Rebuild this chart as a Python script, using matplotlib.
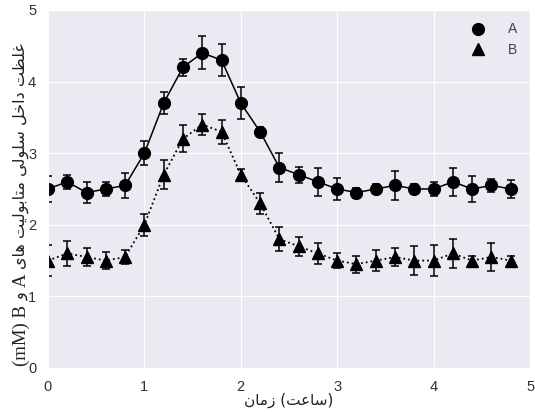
import matplotlib
matplotlib.use("Agg")
import matplotlib.pyplot as plt
from matplotlib.lines import Line2D
from matplotlib.transforms import IdentityTransform
import seaborn as sns

time = [0.0, 0.2, 0.4, 0.6, 0.8, 1.0, 1.2, 1.4, 1.6, 1.8, 2.0, 2.2, 2.4,
        2.6, 2.8, 3.0, 3.2, 3.4, 3.6, 3.8, 4.0, 4.2, 4.4, 4.6, 4.8]
a_mean = [2.5, 2.6, 2.45, 2.5, 2.55, 3.0, 3.7, 4.2, 4.4, 4.3, 3.7, 3.3, 2.8,
          2.7, 2.6, 2.5, 2.45, 2.5, 2.55, 2.5, 2.5, 2.6, 2.5, 2.55, 2.5]
a_err = [0.18, 0.1, 0.15, 0.1, 0.18, 0.17, 0.15, 0.12, 0.23, 0.22, 0.22, 0.06, 0.2,
         0.11, 0.2, 0.15, 0.07, 0.07, 0.2, 0.07, 0.1, 0.2, 0.18, 0.09, 0.12]
b_mean = [1.5, 1.6, 1.55, 1.5, 1.55, 2.0, 2.7, 3.2, 3.4, 3.3, 2.7, 2.3, 1.8,
          1.7, 1.6, 1.5, 1.45, 1.5, 1.55, 1.5, 1.5, 1.6, 1.5, 1.55, 1.5]
b_err = [0.22, 0.17, 0.13, 0.12, 0.1, 0.15, 0.2, 0.19, 0.15, 0.17, 0.08, 0.15, 0.17,
         0.13, 0.15, 0.1, 0.12, 0.15, 0.13, 0.2, 0.22, 0.2, 0.07, 0.2, 0.07]
series_labels = ["A", "B"]
ticks = [0, 1, 2, 3, 4, 5]

# label words in the order they appear, left to right (bottom to top for y)
xlabel_words = ["زمان", "(ساعت)"]
ylabel_unit = "(mM) B"
ylabel_and = "و"
ylabel_a = "A"
ylabel_words = ["های", "متابولیت", "سلولی", "داخل", "غلظت"]

# arabic presentation forms: isolated, final, initial, medial
FORMS = {
    "ا": ("\ufe8d", "\ufe8e", None, None),
    "ب": ("\ufe8f", "\ufe90", "\ufe91", "\ufe92"),
    "ت": ("\ufe95", "\ufe96", "\ufe97", "\ufe98"),
    "خ": ("\ufea5", "\ufea6", "\ufea7", "\ufea8"),
    "د": ("\ufea9", "\ufeaa", None, None),
    "ز": ("\ufeaf", "\ufeb0", None, None),
    "س": ("\ufeb1", "\ufeb2", "\ufeb3", "\ufeb4"),
    "ظ": ("\ufec5", "\ufec6", "\ufec7", "\ufec8"),
    "ع": ("\ufec9", "\ufeca", "\ufecb", "\ufecc"),
    "غ": ("\ufecd", "\ufece", "\ufecf", "\ufed0"),
    "ل": ("\ufedd", "\ufede", "\ufedf", "\ufee0"),
    "م": ("\ufee1", "\ufee2", "\ufee3", "\ufee4"),
    "ن": ("\ufee5", "\ufee6", "\ufee7", "\ufee8"),
    "ه": ("\ufee9", "\ufeea", "\ufeeb", "\ufeec"),
    "و": ("\ufeed", "\ufeee", None, None),
    "ی": ("\ufeef", "\ufef0", "\ufef3", "\ufef4"),
}
MIRROR = {"(": ")", ")": "("}


def shape_word(w):
    out = []
    for i, c in enumerate(w):
        if c not in FORMS:
            out.append(c)
            continue
        prev = w[i - 1] if i > 0 else None
        nxt = w[i + 1] if i + 1 < len(w) else None
        jp = prev in FORMS and FORMS[prev][2] is not None
        jn = FORMS[c][2] is not None and nxt in FORMS
        f = FORMS[c]
        out.append(f[3] if jp and jn else f[1] if jp else f[2] if jn else f[0])
    return "".join(out)


def vis(w):
    # visual (left to right) form of one right-to-left word
    return "".join(MIRROR.get(c, c) for c in reversed(shape_word(w)))


sns.set_style("darkgrid")
plt.rcParams["font.family"] = ["Liberation Sans", "DejaVu Sans"]

fig = plt.figure(figsize=(5.35, 4.12), dpi=100)
ax = fig.add_axes([0.0897, 0.1068, 0.901, 0.869])

ax.errorbar(time, a_mean, yerr=a_err, color="black", marker="o", markersize=8.5,
            linestyle="-", linewidth=1.1, capsize=3, elinewidth=1.1, capthick=1.1)
ax.errorbar(time, b_mean, yerr=b_err, color="black", marker="^", markersize=8.5,
            linestyle=":", linewidth=1.3, capsize=3, elinewidth=1.1, capthick=1.1)

handles = [Line2D([], [], color="black", marker="o", markersize=8.5, linestyle="none"),
           Line2D([], [], color="black", marker="^", markersize=8.5, linestyle="none")]
leg = ax.legend(handles, series_labels, loc="upper right", frameon=False,
                fontsize=10, handletextpad=1.4, handlelength=1.5, labelspacing=0.45,
                borderaxespad=0.5)
for t in leg.get_texts():
    t.set_color("#444444")

ax.set_xlim(0, 5)
ax.set_ylim(0, 5)
ax.set_xticks(ticks)
ax.set_yticks(ticks)
ax.tick_params(labelsize=10.5, labelcolor="#333333", pad=5)

ax.set_xlabel(" ".join(vis(w) for w in xlabel_words), family=["DejaVu Sans"],
              fontsize=11, color="#222222", labelpad=-1)

# y label: serif latin parts and arabic parts stacked bottom to top
r = fig.canvas.get_renderer()
arabic = " ".join(vis(w) for w in ylabel_words)
probe = fig.text(0, 0, arabic, family="DejaVu Sans", fontsize=10)
ar_size = 10 * 226 / probe.get_window_extent(r).width
probe.remove()
segments = [(ylabel_unit, "Liberation Serif", 13.5),
            (vis(ylabel_and), "DejaVu Sans", ar_size),
            (ylabel_a, "Liberation Serif", 13.5),
            (arabic, "DejaVu Sans", ar_size)]
ypos = 412 - 366
for txt, fam, size in segments:
    t = fig.text(21, ypos, txt, family=fam, fontsize=size, rotation=90,
                 ha="center", va="bottom", color="#222222",
                 transform=IdentityTransform())
    ypos += t.get_window_extent(r).height + 5

fig.savefig("out.png", dpi=100)
